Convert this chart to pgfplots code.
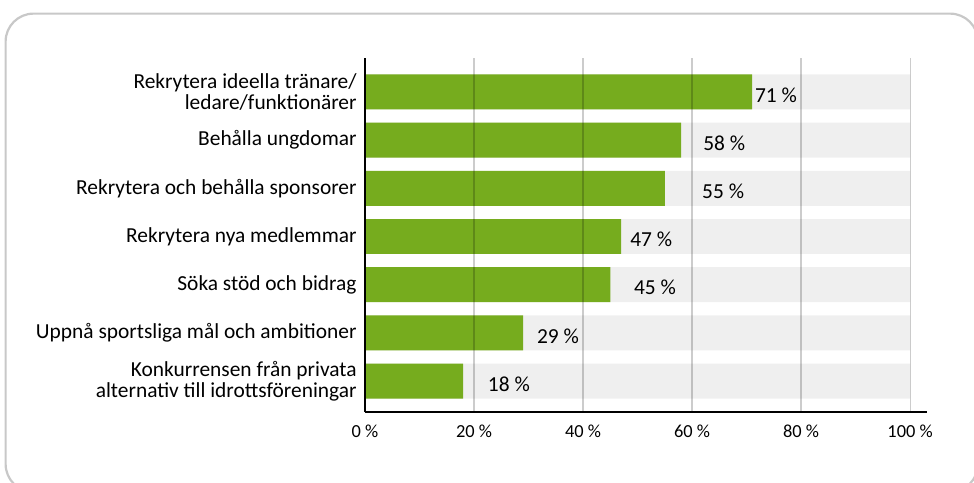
\documentclass[border=0pt]{standalone}
\usepackage{fontspec}
\setmainfont{Carlito}
\usepackage{pgfplots}
\pgfplotsset{compat=1.18}
\definecolor{gron}{HTML}{76AC1E}
\definecolor{ljusgra}{HTML}{EFEFEF}
\definecolor{ram}{HTML}{C8C8C8}

\pgfplotstableread{
x y
71 6
58 5
55 4
47 3
45 2
29 1
18 0
}\andelar

\pgfplotstableread{
x y etikett
75.4 6 {71 \%}
65.9 5 {58 \%}
65.7 4 {55 \%}
52.5 3 {47 \%}
53.2 2 {45 \%}
35.4 1 {29 \%}
26.4 0 {18 \%}
}\etiketter

\begin{document}
\begin{tikzpicture}
  \useasboundingbox (0,0) rectangle (487pt,-241pt);
  \draw[ram, line width=1.1pt, rounded corners=14pt] (2.8pt,-6.8pt) rectangle (489pt,-246pt);
  \begin{axis}[
      at={(182.5pt,-206pt)}, anchor=south west,
      scale only axis,
      width=281pt, height=177pt,
      xmin=0, xmax=103.1,
      ymin=-0.643, ymax=6.705,
      axis on top,
      axis lines=left,
      axis line style={-, black, line width=1.4pt},
      xtick={0,20,40,60,80,100},
      xticklabels={0 \%,20 \%,40 \%,60 \%,80 \%,100 \%},
      ytick={0,1,2,3,4,5,6},
      yticklabels={
        {Konkurrensen från privata\hspace{3pt}\\alternativ till idrottsföreningar},
        {Uppnå sportsliga mål och ambitioner},
        {Söka stöd och bidrag},
        {Rekrytera nya medlemmar},
        {Rekrytera och behålla sponsorer},
        {Behålla ungdomar},
        {Rekrytera ideella tränare/\\ledare/funktionärer}},
      major tick length=0pt,
      tick style={draw=none},
      xmajorgrids,
      grid style={black, opacity=0.2, line width=0.6pt},
      x tick label style={font=\fontsize{9.2}{11}\selectfont, yshift=-3pt},
      y tick label style={font=\fontsize{10.7}{10.5}\selectfont, align=right, inner sep=0pt, xshift=-4pt},
      /pgf/number format/assume math mode=true,
    ]
    \addplot[xbar, bar shift=0pt, bar width=0.726, fill=ljusgra, draw=none]
      coordinates {(100,0) (100,1) (100,2) (100,3) (100,4) (100,5) (100,6)};
    \addplot[xbar, bar shift=0pt, bar width=0.726, fill=gron, draw=none]
      table[x=x, y=y] {\andelar};
    \addplot[only marks, mark=none,
      nodes near coords, point meta=explicit symbolic,
      nodes near coords style={anchor=center, yshift=-1.5pt, font=\fontsize{10.7}{12}\selectfont, text=black}]
      table[x=x, y=y, meta=etikett] {\etiketter};
  \end{axis}
\end{tikzpicture}
\end{document}
